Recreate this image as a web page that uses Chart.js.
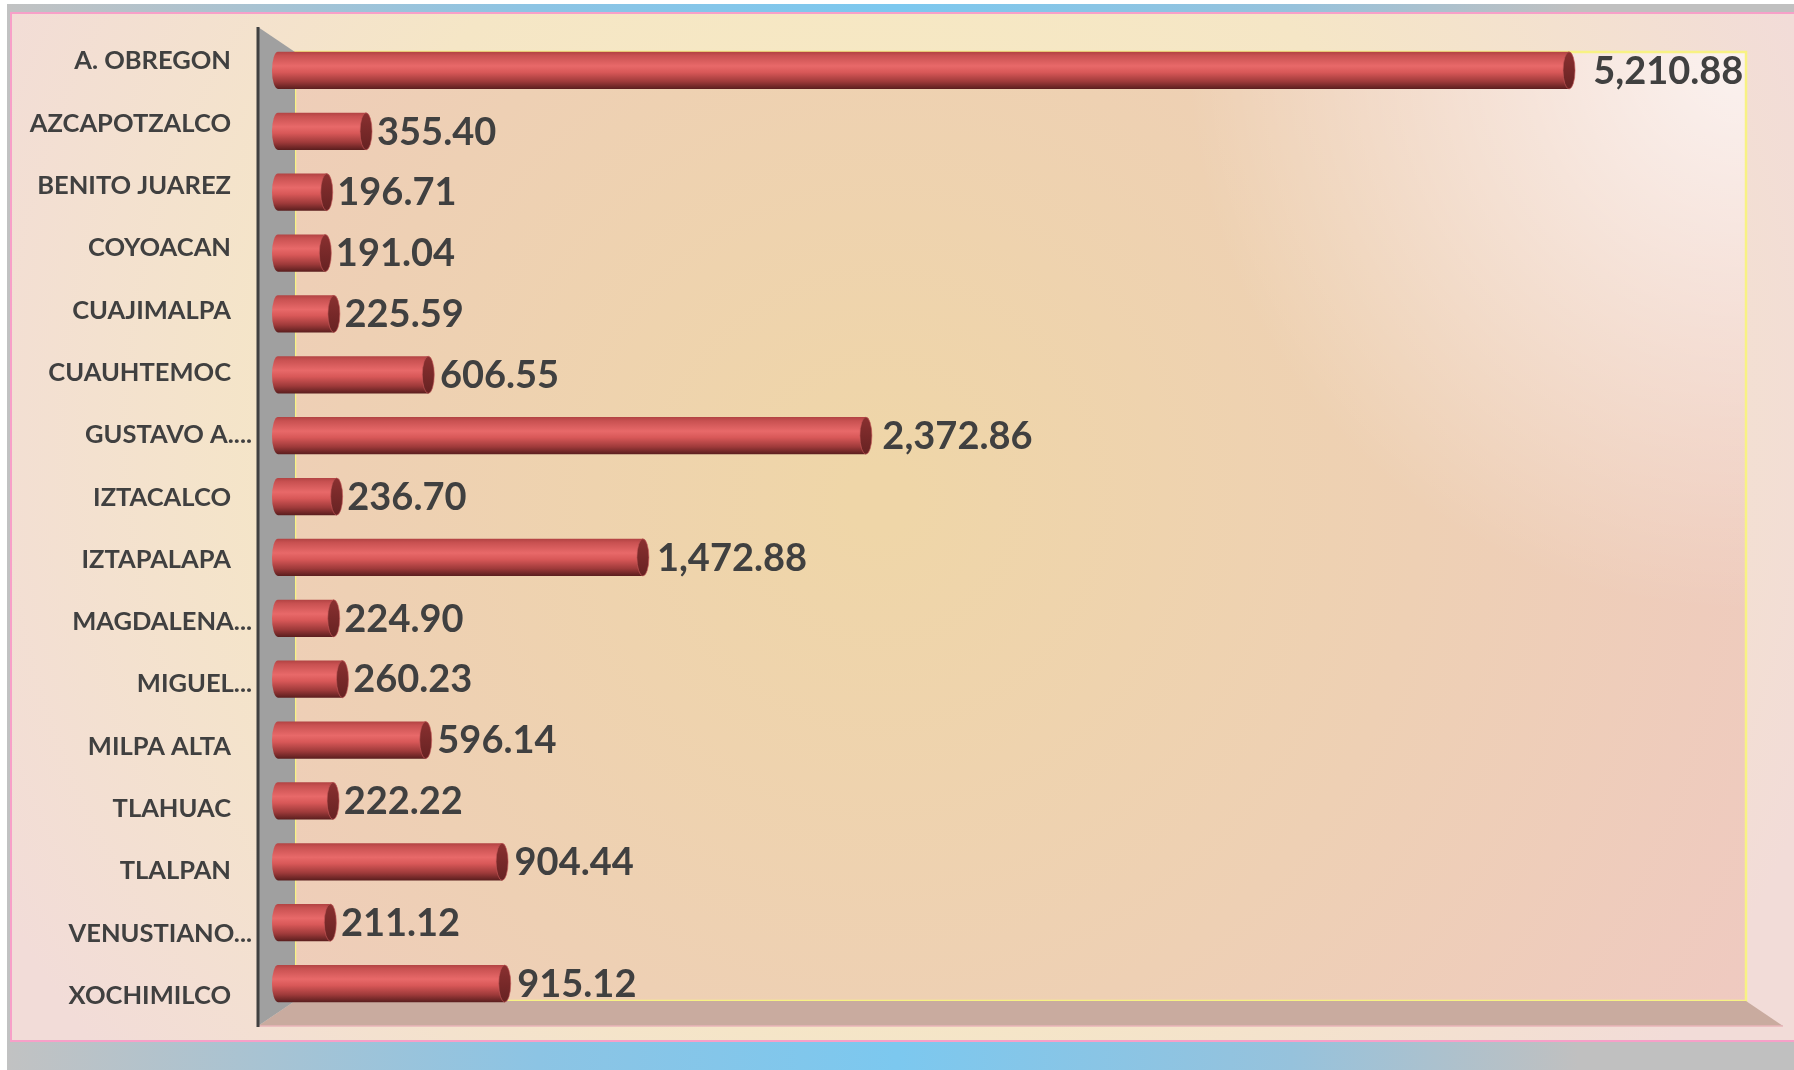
<!DOCTYPE html>
<html>
<head>
<meta charset="utf-8">
<style>
  html, body { margin: 0; padding: 0; background: #fff; overflow: hidden; }
  canvas { display: block; }
</style>
<script src="https://cdn.jsdelivr.net/npm/chart.js"></script>
</head>
<body>
<canvas id="chart" width="1794" height="1070"></canvas>
<script>
// Delegaciones y valores
const categories = [
    'A. OBREGON', 'AZCAPOTZALCO', 'BENITO JUAREZ', 'COYOACAN', 'CUAJIMALPA',
    'CUAUHTEMOC', 'GUSTAVO A....', 'IZTACALCO', 'IZTAPALAPA', 'MAGDALENA...',
    'MIGUEL...', 'MILPA ALTA', 'TLAHUAC', 'TLALPAN', 'VENUSTIANO...', 'XOCHIMILCO'
];
const values = [
    5210.88, 355.40, 196.71, 191.04, 225.59,
    606.55, 2372.86, 236.70, 1472.88, 224.90,
    260.23, 596.14, 222.22, 904.44, 211.12, 915.12
];
const axisMin = 0;
const axisMax = 5800;

const TEXT = '#404040';
const FONT = 'Lato, "Open Sans", sans-serif';

function fmt(v) {
    return v.toLocaleString('en-US', { minimumFractionDigits: 2, maximumFractionDigits: 2 });
}

// cylinder shading for a bar centred on y with thickness h
function cylGradient(ctx, y, h) {
    const g = ctx.createLinearGradient(0, y - h / 2, 0, y + h / 2);
    g.addColorStop(0, '#b24343');
    g.addColorStop(0.1, '#c85151');
    g.addColorStop(0.38, '#e86969');
    g.addColorStop(0.55, '#d85858');
    g.addColorStop(0.8, '#9e3a3a');
    g.addColorStop(1, '#5a1e1e');
    return g;
}

function barGradient(c) {
    const chart = c.chart;
    const ys = chart.scales.y;
    if (!chart.chartArea || !ys) return '#d85858';
    const y = ys.getPixelForValue(c.dataIndex);
    const h = (chart.chartArea.bottom - chart.chartArea.top) / categories.length * 0.61;
    return cylGradient(chart.ctx, y, h);
}

// background, walls and floor of the pseudo-3D box
const framePlugin = {
    id: 'frame',
    beforeDraw(chart) {
        const ctx = chart.ctx;
        const ca = chart.chartArea;
        const W = chart.width, H = chart.height;
        ctx.save();
        ctx.fillStyle = '#ffffff';
        ctx.fillRect(0, 0, W, H);

        // outer band
        const band = ctx.createLinearGradient(0, 0, W, 0);
        band.addColorStop(0, '#c2c2c2');
        band.addColorStop(0.3, '#8cc4e4');
        band.addColorStop(0.5, '#7cc8ef');
        band.addColorStop(0.72, '#96c2dc');
        band.addColorStop(0.88, '#c0c0c0');
        band.addColorStop(1, '#c0c0c0');
        ctx.fillStyle = band;
        ctx.fillRect(7, 4, W - 7, H - 4);

        // pink border + chart background
        ctx.fillStyle = '#f7a0c8';
        ctx.fillRect(10, 12, W - 10, 1030);
        const bg = ctx.createRadialGradient(880, 430, 50, 880, 430, 1000);
        bg.addColorStop(0, '#f8ebbf');
        bg.addColorStop(0.55, '#f5e6c6');
        bg.addColorStop(1, '#f2dcd8');
        ctx.fillStyle = bg;
        ctx.fillRect(12, 14, W - 12, 1026);

        const wallFront = ca.left - 20, wallBack = ca.left + 17;
        const topFront = ca.top - 13, topBack = ca.top + 12;
        const botBack = ca.bottom - 13, botFront = ca.bottom + 12;
        const rightBack = ca.right + 31, rightFront = ca.right + 68;

        // back wall
        const wall = ctx.createRadialGradient(880, 500, 30, 880, 500, 1050);
        wall.addColorStop(0, '#efd6a8');
        wall.addColorStop(0.5, '#eed0b4');
        wall.addColorStop(1, '#efc9c2');
        ctx.fillStyle = wall;
        ctx.fillRect(wallBack, topBack, rightBack - wallBack, botBack - topBack);
        const shine = ctx.createRadialGradient(rightBack, topBack, 10, rightBack, topBack, 560);
        shine.addColorStop(0, 'rgba(255,255,255,0.75)');
        shine.addColorStop(1, 'rgba(255,255,255,0)');
        ctx.fillStyle = shine;
        ctx.fillRect(wallBack, topBack, rightBack - wallBack, botBack - topBack);
        ctx.strokeStyle = '#f8f284';
        ctx.lineWidth = 2.5;
        ctx.strokeRect(wallBack, topBack, rightBack - wallBack, botBack - topBack);

        // floor
        ctx.beginPath();
        ctx.moveTo(wallBack, botBack);
        ctx.lineTo(rightBack, botBack);
        ctx.lineTo(rightFront, botFront);
        ctx.lineTo(wallFront, botFront);
        ctx.closePath();
        ctx.fillStyle = '#c9ab9f';
        ctx.fill();
        ctx.strokeStyle = '#e8b4b8';
        ctx.lineWidth = 1.5;
        ctx.beginPath();
        ctx.moveTo(wallFront, botFront);
        ctx.lineTo(rightFront, botFront);
        ctx.stroke();

        // left wall
        ctx.beginPath();
        ctx.moveTo(wallFront, topFront);
        ctx.lineTo(wallBack, topBack);
        ctx.lineTo(wallBack, botBack);
        ctx.lineTo(wallFront, botFront);
        ctx.closePath();
        ctx.fillStyle = '#a0a0a0';
        ctx.fill();
        ctx.strokeStyle = '#404040';
        ctx.lineWidth = 3;
        ctx.beginPath();
        ctx.moveTo(wallFront, topFront);
        ctx.lineTo(wallFront, botFront + 1);
        ctx.stroke();
        ctx.restore();
    },
    beforeDatasetsDraw(chart) {
        // rounded start of each cylinder, behind the bar body
        const ctx = chart.ctx;
        ctx.save();
        chart.getDatasetMeta(0).data.forEach(bar => {
            const h = bar.height;
            ctx.beginPath();
            ctx.ellipse(bar.base, bar.y, 6, h / 2, 0, Math.PI / 2, Math.PI * 1.5);
            ctx.closePath();
            ctx.fillStyle = cylGradient(ctx, bar.y, h);
            ctx.fill();
        });
        ctx.restore();
    },
    afterDatasetsDraw(chart) {
        const ctx = chart.ctx;
        const ca = chart.chartArea;
        const meta = chart.getDatasetMeta(0);
        const ys = chart.scales.y;
        ctx.save();
        meta.data.forEach((bar, i) => {
            const h = bar.height;
            // end cap of the cylinder
            const cap = ctx.createLinearGradient(0, bar.y - h / 2, 0, bar.y + h / 2);
            cap.addColorStop(0, '#8a3030');
            cap.addColorStop(1, '#662222');
            ctx.beginPath();
            ctx.ellipse(bar.x, bar.y, 6, h / 2, 0, 0, Math.PI * 2);
            ctx.fillStyle = cap;
            ctx.fill();
            ctx.strokeStyle = 'rgba(200,90,90,0.6)';
            ctx.lineWidth = 1;
            ctx.stroke();

            // value label; the gap grows slightly with bar length (perspective)
            const gap = 10 + 0.011 * (bar.x - bar.base);
            ctx.fillStyle = TEXT;
            ctx.font = 'bold 38px ' + FONT;
            ctx.textAlign = 'left';
            ctx.textBaseline = 'middle';
            ctx.fillText(fmt(values[i]), bar.x + gap, bar.y + 1);
        });

        // category labels (slightly wider spread than the bars, as in the 3D view)
        const mid = (ca.top + ca.bottom) / 2;
        ctx.font = 'bold 25.5px ' + FONT;
        ctx.textAlign = 'right';
        ctx.textBaseline = 'middle';
        ctx.fillStyle = TEXT;
        categories.forEach((lab, i) => {
            const yb = ys.getPixelForValue(i);
            const y = mid + (yb - mid) * 1.0235 + 1.5;
            const x = lab.endsWith('...') ? ca.left - 26 : ca.left - 47;
            ctx.fillText(lab, x, y);
        });
        ctx.restore();
    }
};

new Chart(document.getElementById('chart'), {
    type: 'bar',
    data: {
        labels: categories,
        datasets: [{
            data: values,
            backgroundColor: barGradient,
            borderWidth: 0,
            borderRadius: 0,
            barPercentage: 0.61,
            categoryPercentage: 1.0
        }]
    },
    options: {
        indexAxis: 'y',
        responsive: false,
        animation: false,
        layout: { padding: { left: 278, top: 40, right: 79, bottom: 56 } },
        scales: {
            x: { min: axisMin, max: axisMax, display: false },
            y: { type: 'category', offset: true, display: false }
        },
        plugins: {
            legend: { display: false },
            tooltip: { enabled: false }
        }
    },
    plugins: [framePlugin]
});
</script>
</body>
</html>
